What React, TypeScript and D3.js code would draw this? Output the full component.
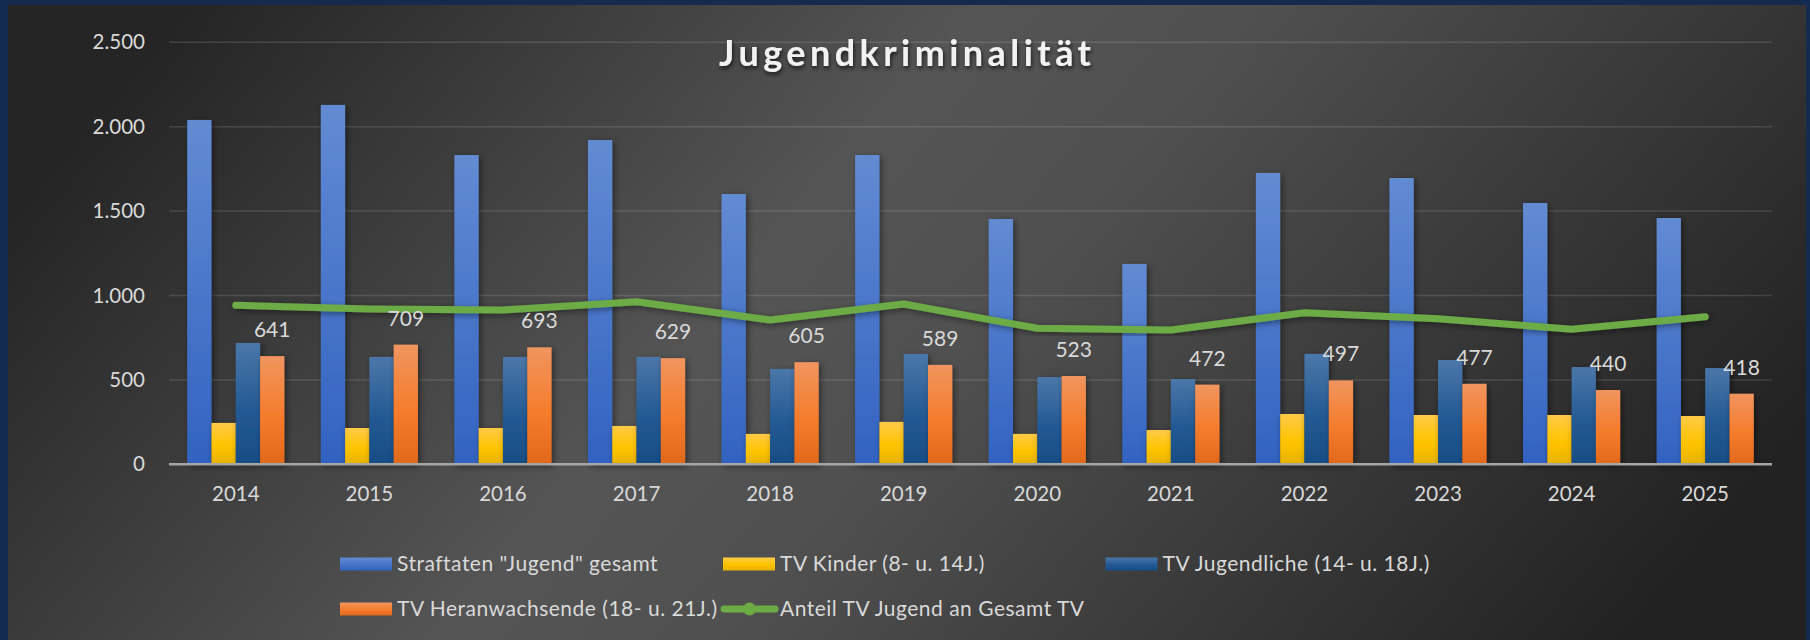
import React from "react";
import * as d3 from "d3";

// --- Data
const years = ["2014", "2015", "2016", "2017", "2018", "2019", "2020", "2021", "2022", "2023", "2024", "2025"];
const gesamt = [2040, 2129, 1832, 1921, 1601, 1832, 1453, 1187, 1726, 1696, 1548, 1459];
const kinder = [245, 215, 215, 227, 180, 251, 180, 203, 298, 292, 292, 286];
const jugendliche = [719, 636, 636, 636, 565, 654, 517, 505, 654, 618, 576, 570];
const heranwachsende = [641, 709, 693, 629, 605, 589, 523, 472, 497, 477, 440, 418];
// share line sits on a hidden secondary axis; values given here in primary-axis units
const anteil = [942, 920, 914, 963, 855, 950, 806, 796, 898, 862, 800, 874];
const yTicks = [0, 500, 1000, 1500, 2000, 2500];

const seriesNames = [
  'Straftaten "Jugend" gesamt',
  "TV Kinder (8- u. 14J.)",
  "TV Jugendliche (14- u. 18J.)",
  "TV Heranwachsende (18- u. 21J.)",
];
const lineName = "Anteil TV Jugend an Gesamt TV";

const W = 1810;
const H = 640;
const FONT = "Lato, 'Open Sans', sans-serif";

const gradStops: Record<string, [number, string][]> = {
  gBlue: [[0, "#638bd3"], [1, "#3262c1"]],
  gYellow: [[0, "#ffca48"], [0.55, "#ffc400"], [1, "#e6b200"]],
  gDark: [[0, "#4b77a9"], [0.55, "#245a94"], [1, "#174d85"]],
  gOrange: [[0, "#f0955f"], [0.55, "#f57c2c"], [1, "#e0691b"]],
};
const gradIds = ["gBlue", "gYellow", "gDark", "gOrange"];

const de = d3.formatLocale({ decimal: ",", thousands: ".", grouping: [3], currency: ["", "€"] });
const fmt = de.format(",");

const App: React.FC = () => {
  const left = 169;
  const right = 1772;
  const y = d3.scaleLinear().domain([0, 2500]).range([464.3, 42.3]);
  const x0 = d3.scaleBand<string>().domain(years).range([left, right]);
  const bw = x0.bandwidth();
  const barW = bw / 5.5; // gap width 150%
  const x1 = d3
    .scaleBand<number>()
    .domain([0, 1, 2, 3])
    .range([barW * 0.75, bw - barW * 0.75]);

  const series = [gesamt, kinder, jugendliche, heranwachsende];

  const line = d3
    .line<number>()
    .x((_, i) => x0(years[i])! + bw / 2)
    .y((d) => y(d));

  const legendCols = [340, 723, 1105.5];
  const legendItems = [
    { name: seriesNames[0], col: 0, row: 0, grad: "gBlue" },
    { name: seriesNames[1], col: 1, row: 0, grad: "gYellow" },
    { name: seriesNames[2], col: 2, row: 0, grad: "gDark" },
    { name: seriesNames[3], col: 0, row: 1, grad: "gOrange" },
  ];
  const legendRows = [564, 609];

  return (
    <svg
      width={W}
      height={H}
      style={{ position: "absolute", left: 0, top: 0, display: "block" }}
      fontFamily={FONT}
    >
      <defs>
        <linearGradient id="bg" x1="0" y1="0.35" x2="1" y2="0.65">
          <stop offset="0" stopColor="#252525" />
          <stop offset="0.4" stopColor="#555555" />
          <stop offset="0.55" stopColor="#4f4f4f" />
          <stop offset="1" stopColor="#222222" />
        </linearGradient>
        {gradIds.map((id) => (
          <linearGradient key={id} id={id} x1="0" y1="0" x2="0" y2="1">
            {gradStops[id].map(([o, c]) => (
              <stop key={o} offset={o} stopColor={c} />
            ))}
          </linearGradient>
        ))}
        <filter id="shadow" x="-30%" y="-10%" width="160%" height="130%">
          <feDropShadow dx="2" dy="2" stdDeviation="3" floodColor="#000" floodOpacity="0.45" />
        </filter>
        <filter id="tshadow" x="-5%" y="-30%" width="110%" height="160%">
          <feDropShadow dx="1" dy="2.5" stdDeviation="2" floodColor="#000" floodOpacity="0.7" />
        </filter>
      </defs>

      {/* frame + chart area */}
      <rect x={0} y={0} width={W} height={H} fill="#152a4f" />
      <rect x={8} y={5} width={1798} height={H - 5} fill="url(#bg)" />

      {/* gridlines */}
      {yTicks.slice(1).map((t) => (
        <line
          key={t}
          x1={left}
          x2={right}
          y1={y(t)}
          y2={y(t)}
          stroke="rgba(255,255,255,0.13)"
          strokeWidth={1.5}
        />
      ))}

      {/* y tick labels */}
      {yTicks.map((t) => (
        <text key={t} x={145} y={y(t) + 7} textAnchor="end" fontSize={20.5} fill="#d9d9d9">
          {fmt(t)}
        </text>
      ))}

      {/* bars */}
      {series.map((vals, s) => (
        <g key={s} filter="url(#shadow)">
          {vals.map((v, i) => (
            <rect
              key={i}
              x={x0(years[i])! + x1(s)!}
              y={y(v)}
              width={x1.bandwidth()}
              height={y(0) - y(v)}
              fill={`url(#${gradIds[s]})`}
            />
          ))}
        </g>
      ))}

      {/* x axis line */}
      <line x1={left} x2={right} y1={y(0)} y2={y(0)} stroke="#a6a6a6" strokeWidth={2.5} />

      {/* share line */}
      <path
        d={line(anteil)!}
        fill="none"
        stroke="#6cab45"
        strokeWidth={7}
        strokeLinejoin="round"
        strokeLinecap="round"
        filter="url(#shadow)"
      />

      {/* data labels on Heranwachsende */}
      {heranwachsende.map((v, i) => (
        <text
          key={i}
          x={x0(years[i])! + x1(3)! + x1.bandwidth() / 2}
          y={y(v) - 19}
          textAnchor="middle"
          fontSize={21}
          fill="#d9d9d9"
        >
          {v}
        </text>
      ))}

      {/* x labels */}
      {years.map((yr) => (
        <text key={yr} x={x0(yr)! + bw / 2} y={501} textAnchor="middle" fontSize={20.5} fill="#d9d9d9">
          {yr}
        </text>
      ))}

      {/* title */}
      <text
        x={905}
        y={66}
        textAnchor="middle"
        fontSize={36}
        fontWeight="bold"
        fill="#f2f2f2"
        textLength={372}
        lengthAdjust="spacing"
        filter="url(#tshadow)"
      >
        Jugendkriminalität
      </text>

      {/* legend */}
      {legendItems.map((it) => {
        const lx = legendCols[it.col];
        const ly = legendRows[it.row];
        return (
          <g key={it.name}>
            <rect x={lx} y={ly - 6.5} width={52} height={13} fill={`url(#${it.grad})`} />
            <text x={lx + 57} y={ly + 7} fontSize={21} letterSpacing={0.5} fill="#d9d9d9">
              {it.name}
            </text>
          </g>
        );
      })}
      <g>
        <line
          x1={724}
          x2={775}
          y1={legendRows[1]}
          y2={legendRows[1]}
          stroke="#6cab45"
          strokeWidth={7}
          strokeLinecap="round"
        />
        <circle cx={749.5} cy={legendRows[1]} r={6.5} fill="#6cab45" />
        <text x={780} y={legendRows[1] + 7} fontSize={21} letterSpacing={0.5} fill="#d9d9d9">
          {lineName}
        </text>
      </g>
    </svg>
  );
};

export default App;
